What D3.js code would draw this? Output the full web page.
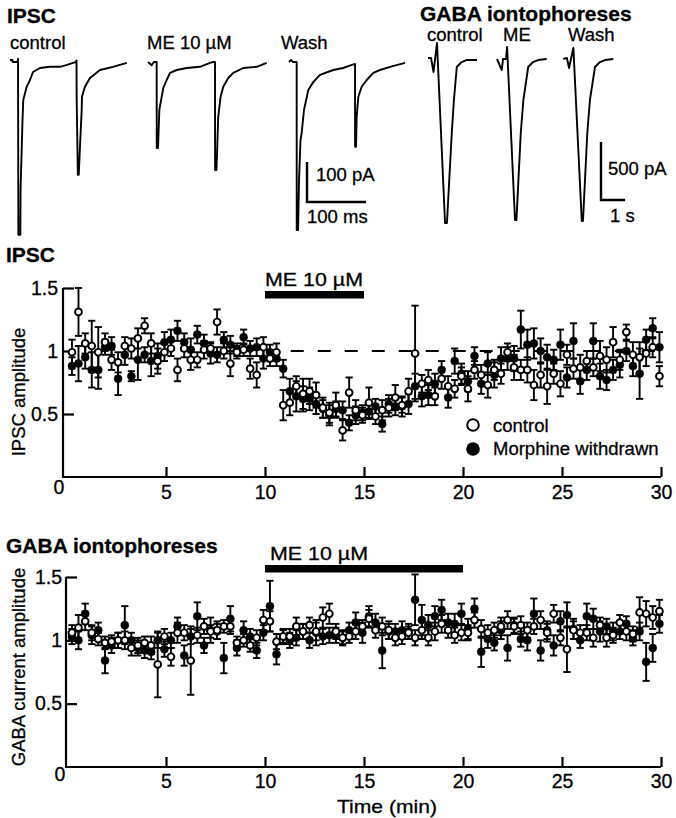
<!DOCTYPE html>
<html><head><meta charset="utf-8">
<script src="https://cdn.jsdelivr.net/npm/d3@7"></script>
<style>
html,body{margin:0;padding:0;background:#fff;}
svg{display:block;}
text{font-family:"Liberation Sans",Arial,Helvetica,sans-serif;fill:#000;stroke:#000;stroke-width:0.3px;}
</style></head>
<body>
<svg id="fig" width="676" height="818"></svg>
<script>
// ---------- DATA ----------
// sample times (min), 20 s bins
const times = [0.25,0.58,0.92,1.25,1.58,1.92,2.25,2.58,2.92,3.25,
3.58,3.92,4.25,4.58,4.92,5.25,5.58,5.92,6.25,6.58,
6.92,7.25,7.58,7.92,8.25,8.58,8.92,9.25,9.58,9.92,
10.25,10.58,10.92,11.25,11.58,11.92,12.25,12.58,12.92,13.25,
13.58,13.92,14.25,14.58,14.92,15.25,15.58,15.92,16.25,16.58,
16.92,17.25,17.58,17.92,18.25,18.58,18.92,19.25,19.58,19.92,
20.25,20.58,20.92,21.25,21.58,21.92,22.25,22.58,22.92,23.25,
23.58,23.92,24.25,24.58,24.92,25.25,25.58,25.92,26.25,26.58,
26.92,27.25,27.58,27.92,28.25,28.58,28.92,29.25,29.58,29.92];

// IPSC amplitude (normalized)
const ipscControl = [0.99,1.31,1.06,1.04,0.99,1.07,0.93,0.91,1.04,1.02,1.10,1.20,1.06,0.92,0.99,1.02,0.85,1.02,0.93,0.93,1.01,1.02,1.23,1.00,0.90,0.99,1.01,0.86,0.81,
1.03,0.94,0.99,0.57,0.59,0.72,0.66,0.68,0.65,0.55,0.51,0.57,0.37,0.67,0.53,0.49,0.59,0.48,0.53,0.55,0.63,0.57,0.68,0.98,0.74,0.77,0.64,0.78,0.72,0.70,0.80,
0.70,0.85,0.81,0.73,0.85,0.82,0.99,0.87,0.85,0.85,0.73,0.81,0.72,0.82,0.74,0.97,0.86,0.87,0.92,0.87,0.96,0.93,1.07,0.93,1.15,0.97,0.95,0.98,1.03,0.80];
const ipscControlErr = [0.10,0.19,0.08,0.20,0.20,0.07,0.08,0.08,0.07,0.08,0.08,0.06,0.08,0.10,0.07,0.06,0.09,0.07,0.08,0.06,0.07,0.05,0.10,0.06,0.10,0.05,0.05,0.08,0.10,
0.08,0.06,0.07,0.12,0.10,0.08,0.12,0.10,0.10,0.08,0.08,0.10,0.08,0.12,0.08,0.06,0.12,0.06,0.08,0.07,0.10,0.06,0.10,0.38,0.07,0.08,0.07,0.08,0.08,0.07,0.07,
0.10,0.07,0.08,0.10,0.08,0.08,0.07,0.10,0.08,0.10,0.12,0.10,0.14,0.08,0.10,0.08,0.08,0.10,0.08,0.07,0.12,0.10,0.12,0.08,0.06,0.10,0.12,0.10,0.08,0.08];
const ipscMorphine = [0.88,0.90,0.95,0.85,0.85,1.03,1.04,0.78,0.97,0.80,0.93,0.97,0.92,0.96,1.07,1.09,1.16,1.07,1.01,1.13,1.06,0.98,0.97,1.09,1.05,1.01,1.11,1.02,1.03,
0.94,0.99,0.94,0.86,0.68,0.64,0.62,0.62,0.58,0.54,0.49,0.54,0.53,0.43,0.49,0.51,0.52,0.56,0.42,0.58,0.56,0.56,0.58,0.72,0.64,0.65,0.74,0.85,0.63,0.92,0.82,
0.76,0.96,0.74,0.90,0.81,0.94,0.94,0.94,1.17,1.05,1.06,1.00,0.95,0.93,1.05,0.79,1.08,0.76,0.85,1.08,0.80,0.77,0.85,0.89,1.00,0.88,0.82,1.09,1.18,1.03];
const ipscMorphineErr = [0.07,0.14,0.09,0.14,0.15,0.06,0.07,0.13,0.08,0.04,0.16,0.06,0.12,0.10,0.08,0.08,0.08,0.07,0.09,0.07,0.07,0.08,0.06,0.06,0.07,0.05,0.06,0.06,0.07,
0.08,0.06,0.06,0.07,0.10,0.12,0.10,0.09,0.08,0.07,0.08,0.06,0.07,0.06,0.07,0.06,0.06,0.06,0.06,0.07,0.07,0.08,0.08,0.10,0.08,0.08,0.08,0.07,0.08,0.10,0.08,
0.08,0.07,0.08,0.09,0.10,0.09,0.09,0.10,0.15,0.12,0.12,0.10,0.10,0.08,0.12,0.08,0.14,0.10,0.08,0.14,0.10,0.08,0.08,0.10,0.08,0.08,0.20,0.08,0.08,0.12];

// GABA current amplitude (normalized)
const gabaControl = [1.06,1.10,1.15,1.06,1.01,0.98,0.99,1.00,1.00,0.94,0.96,0.98,0.96,0.81,1.03,0.87,1.06,1.06,0.84,1.04,1.11,1.07,1.08,1.11,1.11,0.98,1.00,0.96,1.02,
1.16,1.15,0.99,1.03,1.03,1.11,1.07,1.12,1.07,1.18,1.21,1.07,1.02,1.03,1.07,1.11,1.17,1.08,1.11,1.08,1.02,1.03,1.06,1.02,1.08,1.02,1.07,1.13,1.08,1.04,
1.06,1.06,1.16,1.09,1.06,1.08,1.11,1.16,1.11,1.12,1.08,1.11,1.16,1.06,1.21,1.02,0.93,1.08,1.06,1.06,1.02,1.12,1.02,1.04,1.14,1.07,1.05,1.22,1.21,1.18,1.23];
const gabaControlErr = [0.06,0.10,0.07,0.06,0.05,0.05,0.05,0.06,0.07,0.06,0.06,0.05,0.07,0.26,0.06,0.07,0.08,0.06,0.27,0.06,0.06,0.05,0.07,0.05,0.06,0.05,0.05,0.05,0.06,
0.08,0.08,0.06,0.05,0.06,0.07,0.06,0.06,0.07,0.08,0.08,0.06,0.05,0.05,0.06,0.05,0.07,0.06,0.07,0.07,0.06,0.06,0.05,0.06,0.07,0.06,0.07,0.07,0.06,0.06,
0.06,0.06,0.06,0.07,0.06,0.06,0.07,0.07,0.06,0.07,0.06,0.06,0.07,0.07,0.07,0.06,0.18,0.07,0.06,0.06,0.07,0.06,0.07,0.06,0.06,0.07,0.06,0.12,0.10,0.09,0.09];
const gabaMorphine = [1.03,1.00,1.21,1.04,1.08,0.84,0.96,1.00,1.12,1.00,0.94,0.92,0.91,1.00,0.93,1.00,1.11,0.88,1.03,1.19,0.96,1.08,1.07,0.86,1.17,0.94,1.08,1.03,0.92,
1.06,1.27,0.89,1.03,1.00,1.02,1.07,1.00,1.06,1.03,1.04,1.04,1.02,1.08,1.14,1.06,1.19,1.14,0.92,1.07,1.07,1.08,1.07,1.32,1.16,1.12,1.19,1.24,1.14,1.13,
1.21,1.09,1.25,0.91,1.01,0.98,1.08,0.94,1.12,1.01,1.00,1.21,0.92,1.08,0.96,1.15,1.20,1.09,1.00,1.19,1.17,1.07,1.11,1.07,1.07,1.13,1.02,1.07,0.83,0.94,1.13];
const gabaMorphineErr = [0.06,0.07,0.08,0.07,0.06,0.10,0.06,0.06,0.15,0.06,0.06,0.06,0.06,0.06,0.06,0.06,0.07,0.08,0.06,0.11,0.06,0.10,0.06,0.12,0.10,0.06,0.07,0.06,0.06,
0.06,0.20,0.08,0.06,0.06,0.06,0.06,0.06,0.10,0.06,0.06,0.06,0.06,0.06,0.08,0.08,0.08,0.07,0.14,0.06,0.06,0.07,0.06,0.20,0.12,0.08,0.08,0.08,0.07,0.08,
0.08,0.08,0.08,0.12,0.07,0.06,0.07,0.10,0.06,0.06,0.08,0.12,0.08,0.07,0.08,0.08,0.10,0.08,0.06,0.10,0.08,0.08,0.06,0.07,0.06,0.06,0.06,0.07,0.15,0.11,0.07];

const xTicks = [5,10,15,20,25,30];
const yTicks = [0.5,1,1.5];
const seriesNames = ["control","Morphine withdrawn"];
const drugLabel = "ME 10 \u00B5M";
const ipscDrugPeriod = [10,15];
const gabaDrugPeriod = [10,20];

// Example traces: [time (ms), current (pA)]
const ipscTraceControl = [[0,5],[4,5],[4.5,0],[13,0],[13.6,8],[14.2,-432],[17.5,-432],[18,-312],[19.8,-220],[21.2,-145],[22.5,-95],[28.3,-62],[33.9,-45],[39,-25],[50.8,-15],[67.8,-12],[84.7,-12],[96.6,-7],[106.8,-2],[112,0],[112.7,4],[113,-90],[115,-282],[116.5,-282],[118.6,-212],[121.5,-120],[122,-87],[127,-62],[135.6,-40],[152.5,-20],[174.6,-12],[198,-2]];
const ipscTraceME = [[0,0],[6.2,-8],[10,0],[14.7,0],[14.8,-215],[17,-215],[19.2,-120],[23.2,-87],[25.9,-65],[31.7,-45],[37.3,-27],[48.6,-20],[65.6,-15],[88.1,-12],[105,-2],[110.7,0],[113.6,0],[113.7,-270],[116,-270],[117.4,-212],[119,-137],[123,-87],[127.6,-62],[136,-40],[144.6,-27],[161.5,-15],[184.2,-12],[201.2,-2]];
const ipscTraceWash = [[0,0],[3.4,5],[6.8,0],[13,0],[13.1,-420],[15.4,-420],[17,-295],[19.5,-195],[21.5,-177],[25.4,-120],[32.7,-70],[41.2,-50],[52.5,-32],[75,-20],[91.5,-15],[106.8,-7],[111.9,-5],[112,-212],[113.6,-212],[114.7,-137],[117.5,-87],[123.2,-62],[131.7,-45],[142.9,-27],[154.2,-20],[171.2,-12],[196.6,-2]];
// GABA traces: [time (s), current (pA)]
const gabaTraceControl = [[0,9],[0.125,9],[0.23,-112],[0.29,-9],[0.375,138],[0.71,-1414],[0.79,-1414],[0.99,-638],[1.08,-353],[1.2,-69],[1.4,-26],[1.6,-9],[2.04,-9]];
const gabaTraceME = [[0,0],[0.2,-95],[0.25,0],[0.375,0],[0.42,103],[0.75,-1388],[0.81,-1388],[0.99,-638],[1.1,-353],[1.3,-69],[1.5,-26],[1.71,-9],[2.07,0]];
const gabaTraceWash = [[0,0],[0.15,9],[0.24,-78],[0.32,0],[0.42,95],[0.77,-1397],[0.82,-1397],[1.0,-638],[1.11,-353],[1.32,-69],[1.53,-26],[1.74,-9],[2.08,0]];

// ---------- DRAWING ----------
const svg = d3.select("#fig");
const FS = 18.5;
const TICK_FS = 19.5;

function txt(x, y, s, opts = {}) {
  const t = svg.append("text").attr("x", x).attr("y", y).text(s)
    .attr("font-size", opts.size || FS);
  if (opts.bold) t.attr("font-weight", "bold");
  if (opts.anchor) t.attr("text-anchor", opts.anchor);
  if (opts.len) t.attr("textLength", opts.len).attr("lengthAdjust", "spacingAndGlyphs");
  if (opts.rotate) t.attr("transform", `rotate(-90,${x},${y})`);
  return t;
}

// ---- top: example traces ----
const ipscT = d3.scaleLinear().domain([0, 100]).range([0, 59]);   // ms -> px
const ipscI = d3.scaleLinear().domain([0, 100]).range([0, -40]);  // pA -> px
const gabaT = d3.scaleLinear().domain([0, 1]).range([0, 24]);     // s -> px
const gabaI = d3.scaleLinear().domain([0, 500]).range([0, -58]);  // pA -> px

function trace(data, ox, oy, ts, is) {
  const line = d3.line().x(d => ox + ts(d[0])).y(d => oy + is(d[1]));
  svg.append("path").attr("d", line(data)).attr("fill", "none")
    .attr("stroke", "#000").attr("stroke-width", 1.9).attr("stroke-linejoin", "round");
}
trace(ipscTraceControl, 10, 62, ipscT, ipscI);
trace(ipscTraceME, 148, 62, ipscT, ipscI);
trace(ipscTraceWash, 289, 62, ipscT, ipscI);
trace(gabaTraceControl, 428, 59, gabaT, gabaI);
trace(gabaTraceME, 497, 59, gabaT, gabaI);
trace(gabaTraceWash, 563.3, 59, gabaT, gabaI);

// scale bars
function scaleBar(x0, y0, w, h) {
  svg.append("path").attr("d", `M${x0},${y0 - h}V${y0}H${x0 + w}`)
    .attr("fill", "none").attr("stroke", "#000").attr("stroke-width", 2.4);
}
scaleBar(307, 202, ipscT(100), -ipscI(100));
scaleBar(601, 200, gabaT(1), -gabaI(500));
txt(316, 181, "100 pA");
txt(307, 223, "100 ms");
txt(608, 175, "500 pA");
txt(610, 222, "1 s");

txt(7, 23, "IPSC", {bold: true, size: 21});
txt(10, 49, "control");
txt(147, 49, drugLabel);
txt(281, 49, "Wash");
txt(420, 21, "GABA iontophoreses", {bold: true, size: 21});
txt(427, 41, "control");
txt(503, 41, "ME");
txt(568, 41, "Wash");

// ---- time-course panels ----
const x = d3.scaleLinear().domain([0, 30]).range([67, 661]);

function panel(cfg) {
  const y = cfg.y;
  const g = svg.append("g");
  g.append("path").attr("d", `M${cfg.ax},${y(1.5)}V${y(0)}H${x(30)}`)
    .attr("fill", "none").attr("stroke", "#000").attr("stroke-width", 2.2);
  const ya = d3.axisLeft(y).tickValues(yTicks).tickSize(-11).tickPadding(cfg.ypad)
    .tickFormat(d => String(d));
  const yg = g.append("g").attr("transform", `translate(${cfg.ax},0)`).call(ya);
  yg.select(".domain").remove();
  yg.selectAll("line").attr("stroke", "#000").attr("stroke-width", 2.2);
  yg.selectAll("text").attr("font-size", TICK_FS).attr("font-family", null).attr("fill", "#000");
  const xa = d3.axisBottom(x).tickValues(xTicks).tickSize(-10).tickPadding(cfg.xpad)
    .tickFormat(d => String(d));
  const xg = g.append("g").attr("transform", `translate(0,${y(0)})`).call(xa);
  xg.select(".domain").remove();
  xg.selectAll("line").attr("stroke", "#000").attr("stroke-width", 2.2);
  xg.selectAll("text").attr("font-size", TICK_FS).attr("font-family", null).attr("fill", "#000");
  txt(cfg.zeroX, cfg.zeroY, "0", {anchor: "middle", size: TICK_FS});

  g.append("rect").attr("x", x(cfg.drug[0])).attr("width", x(cfg.drug[1]) - x(cfg.drug[0]))
    .attr("y", cfg.barY).attr("height", 7.5).attr("fill", "#000");
  txt(x(cfg.drug[0]) + cfg.labDx, cfg.barY - 5, drugLabel, {len: 98, size: 19});

  if (cfg.dashed) {
    g.append("line").attr("x1", x(11.3)).attr("x2", x(30)).attr("y1", y(1)).attr("y2", y(1))
      .attr("stroke", "#000").attr("stroke-width", 2).attr("stroke-dasharray", "13,14");
  }

  const series = [
    {v: cfg.morph, e: cfg.morphErr, filled: true},
    {v: cfg.ctrl, e: cfg.ctrlErr, filled: false}
  ];
  series.forEach(s => {
    const eg = g.append("g").attr("stroke", "#000").attr("stroke-width", 1.9);
    times.forEach((t, i) => {
      const cx = x(t), lo = y(s.v[i] - s.e[i]), hi = y(s.v[i] + s.e[i]);
      eg.append("line").attr("x1", cx).attr("x2", cx).attr("y1", lo).attr("y2", hi);
      eg.append("line").attr("x1", cx - 3.6).attr("x2", cx + 3.6).attr("y1", lo).attr("y2", lo);
      eg.append("line").attr("x1", cx - 3.6).attr("x2", cx + 3.6).attr("y1", hi).attr("y2", hi);
    });
  });
  series.forEach(s => {
    g.append("g").selectAll("circle").data(times).join("circle")
      .attr("cx", d => x(d)).attr("cy", (d, i) => y(s.v[i]))
      .attr("r", s.filled ? 4 : 3.4)
      .attr("fill", s.filled ? "#000" : "#fff")
      .attr("stroke", "#000").attr("stroke-width", s.filled ? 0.5 : 1.9);
  });
}

const y2 = d3.scaleLinear().domain([0, 1.5]).range([477, 288]);
const y3 = d3.scaleLinear().domain([0, 1.5]).range([767, 577]);

txt(6, 262, "IPSC", {bold: true, size: 21});
panel({y: y2, ax: 63, ypad: 5, xpad: 8, zeroX: 59, zeroY: 494, drug: ipscDrugPeriod, barY: 291, labDx: 0,
  dashed: true, ctrl: ipscControl, ctrlErr: ipscControlErr, morph: ipscMorphine, morphErr: ipscMorphineErr});
txt(25, 392, "IPSC amplitude", {anchor: "middle", rotate: true});

txt(6, 553, "GABA iontophoreses", {bold: true, size: 21});
panel({y: y3, ax: 66, ypad: 4, xpad: 7, zeroX: 60, zeroY: 781, drug: gabaDrugPeriod, barY: 565, labDx: 5,
  dashed: false, ctrl: gabaControl, ctrlErr: gabaControlErr, morph: gabaMorphine, morphErr: gabaMorphineErr});
txt(25, 667, "GABA current amplitude", {anchor: "middle", rotate: true});
txt(387, 813, "Time (min)", {anchor: "middle", len: 100, size: 19});

// legend
svg.append("circle").attr("cx", 473).attr("cy", 425).attr("r", 5.8).attr("fill", "#fff")
  .attr("stroke", "#000").attr("stroke-width", 2);
svg.append("circle").attr("cx", 473).attr("cy", 449).attr("r", 6.8).attr("fill", "#000");
txt(493, 432, seriesNames[0]);
txt(493, 455, seriesNames[1]);
</script>
</body></html>
